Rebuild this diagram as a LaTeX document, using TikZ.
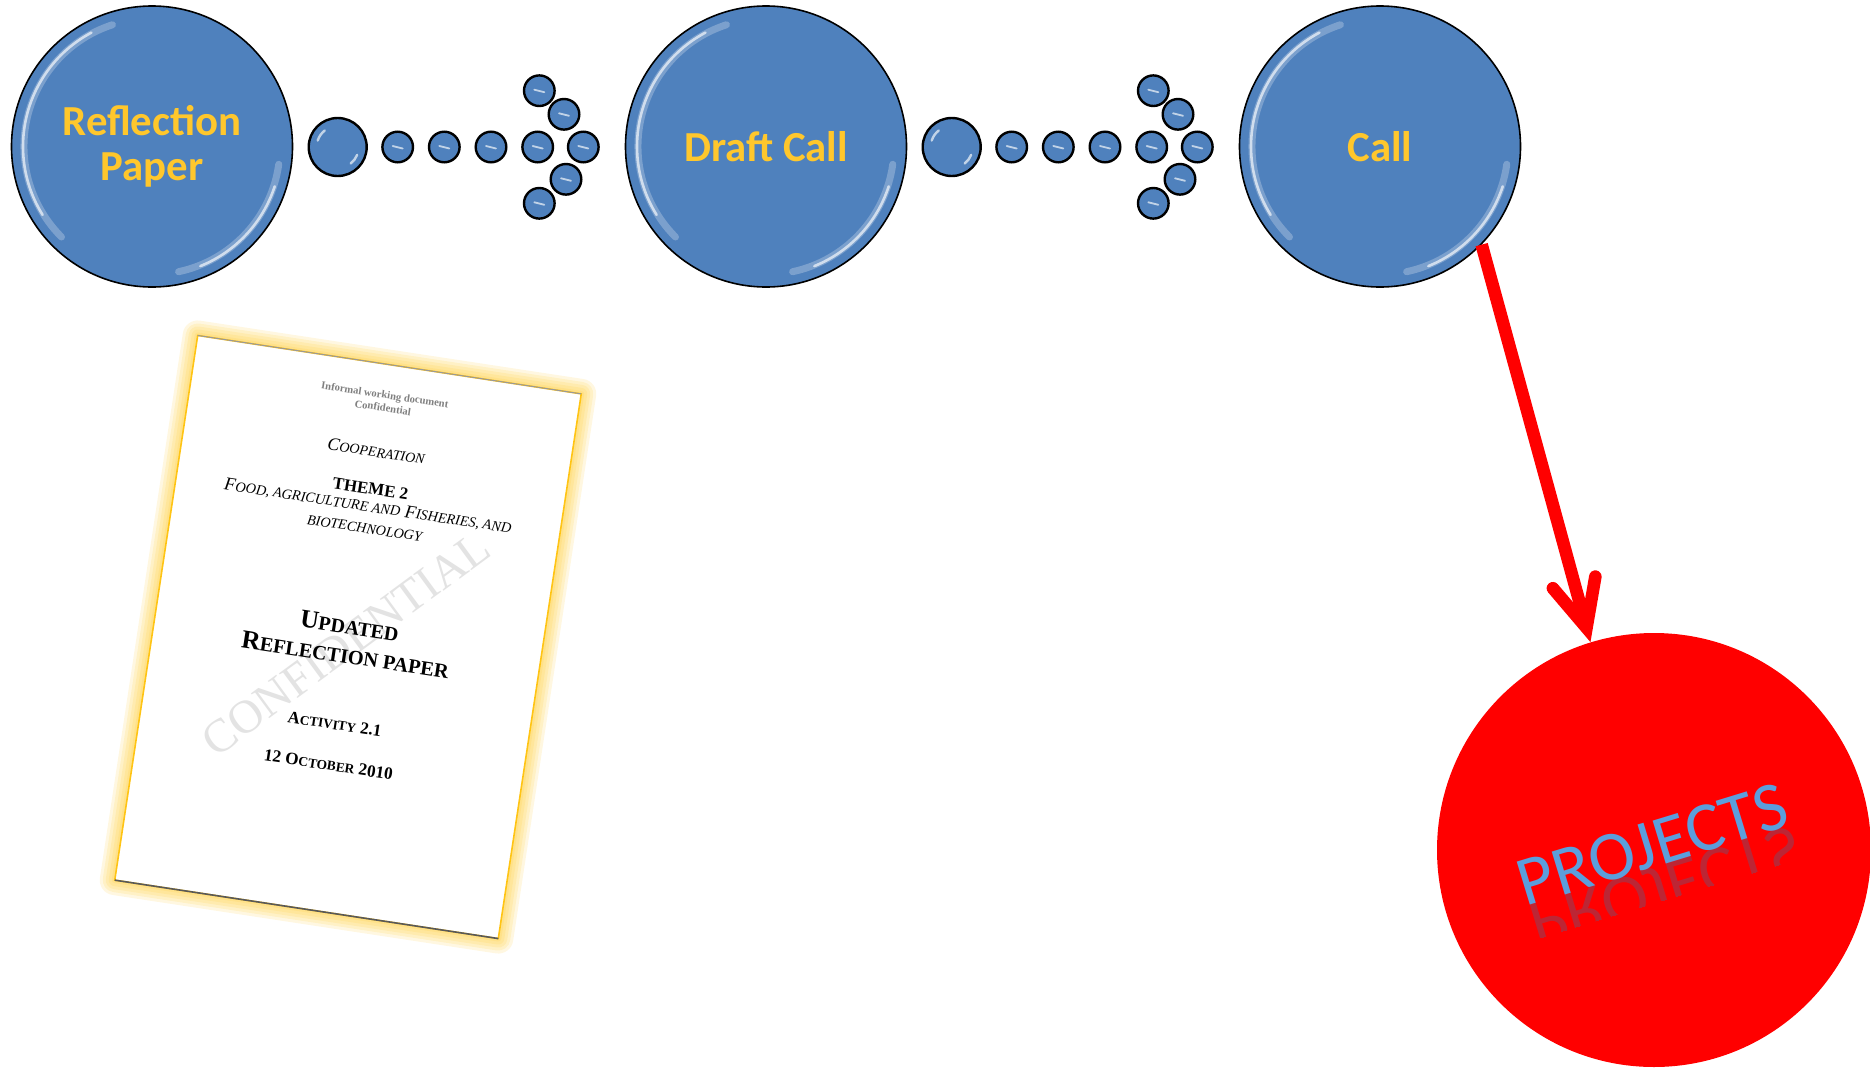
\documentclass[tikz,border=0pt]{standalone}
\usepackage{fontspec}
\setmainfont{Liberation Serif}
\newfontfamily\calfont{Carlito}
\newfontfamily\pagefont{Liberation Serif}
\newfontfamily\pagesc[Scale=0.78]{Liberation Serif}
\usepackage{tikz}
\usetikzlibrary{arrows.meta,positioning,calc}
\definecolor{ballblue}{RGB}{79,129,189}
\definecolor{balltext}{RGB}{255,199,44}
\definecolor{glowgold}{RGB}{255,196,20}
\definecolor{projblue}{RGB}{92,158,220}

\begin{document}
\begin{tikzpicture}[x=0.5pt,y=0.5pt,
	bigball/.style={circle,draw=black,line width=0.8pt,fill=ballblue,minimum size=140.5pt,inner sep=0pt,align=center,text=balltext,font=\calfont\bfseries\fontsize{21.4}{22.8}\selectfont},
	bubble/.style={circle,draw=black,line width=1.2pt,fill=ballblue,minimum size=15.3pt,inner sep=0pt},
	bigbubble/.style={bubble,minimum size=29pt},
	gloss/.style={white,opacity=0.65,line cap=round},
	pagetext/.style={font=\pagefont\fontsize{#1}{#1}\selectfont,inner sep=0pt}]
	\useasboundingbox (0,0) rectangle (1870,-1071);
	% the three stages
	\node[bigball] (refl) at (152,-146.5) {Reflection\\Paper};
	\node[bigball] (draft) at (766,-146.5) {Draft Call};
	\node[bigball] (call) at (1380,-146.5) {Call};
	\foreach \n in {refl,draft,call}{
		\draw[gloss,opacity=0.25,line width=3.5pt] ([shift={(108:128)}]\n.center) arc (108:225:128);
		\draw[gloss,line width=1.3pt] ([shift={(118:129)}]\n.center) arc (118:212:129);
		\draw[gloss,opacity=0.25,line width=3.5pt] ([shift={(-8:128)}]\n.center) arc (-8:-78:128);
		\draw[gloss,line width=1.3pt] ([shift={(-18:129)}]\n.center) arc (-18:-68:129);
	}
	% bubble arrows between the stages
	\foreach \g [count=\k] in {0,614}{
		\node[bigbubble] (lead\k) at (337.7+\g,-147) {};
		\draw[gloss,line width=1.2pt] ([shift={(128:21)}]lead\k.center) arc (128:162:21);
		\draw[gloss,line width=1.2pt] ([shift={(-22:21)}]lead\k.center) arc (-22:-52:21);
		\foreach \x/\y [count=\i] in {397.7/147,444.3/147,491/147,537.7/147,583.3/147,539.3/90.7,564/114.3,566/179.3,539.3/203.3}{
			\node[bubble] (dot\k-\i) at (\x+\g,-\y) {};
			\draw[gloss,line width=0.9pt] ([shift={(-5,1)}]dot\k-\i.center) -- ++(10,-2.5);
		}
	}
	% projects
	\node[circle,fill=red,minimum size=217pt,inner sep=0pt] (proj) at (1654,-850) {};
	\begin{scope}
		\clip[rotate around={17:(1659,-866)}] (1480,-864) rectangle (1840,-900);
		\node[rotate=17,yscale=-1,anchor=base,text=projblue!70!black,opacity=0.35,font=\calfont\fontsize{35}{35}\selectfont] (projmirror) at (1659,-866) {PROJECTS};
	\end{scope}
	\node[rotate=17,anchor=base,text=projblue,font=\calfont\fontsize{35}{35}\selectfont] (projtext) at (1659,-866) {PROJECTS};
	\draw[red,line width=6.3pt,-{Straight Barb[length=23.5pt,width=22pt,line cap=round]}] (call.-44) -- (proj.107.5);
	% the paper
	\begin{scope}[shift={(348,-637)},rotate=-8.66,transform shape]
		\foreach \w in {15pt,12pt,9pt,6pt,3pt}
			\draw[glowgold,opacity=0.13,line width=\w,line join=round] (-194,-275.5) rectangle (194,275.5);
		\fill[white] (-194,-275.5) rectangle (194,275.5);
		\draw[glowgold,line width=0.8pt] (-194,-275.5) rectangle (194,275.5);
		\draw[black!65,line width=0.8pt] (-194,-275.5) -- (194,-275.5);
		\draw[black!40,line width=0.5pt] (-194,275.5) -- (194,275.5);
		\node[pagetext=23.5,rotate=45,text=black!11] (wmark) at (-1,-7) {CONFIDENTIAL};
		\node[pagetext=5.3,text=black!50] (info) at (0,244) {\bfseries Informal working document};
		\node[pagetext=5.3,text=black!50] (conf) at (0,232) {\bfseries Confidential};
		\node[pagetext=9] (coop) at (0,188) {\itshape C{\pagesc OOPERATION}};
		\node[pagetext=8.5] (theme) at (0,150) {\bfseries THEME 2};
		\node[pagetext=9.2] (food) at (0,132) {\itshape F{\pagesc OOD, AGRICULTURE AND} F{\pagesc ISHERIES, AND}};
		\node[pagetext=9.1] (bio) at (0,110) {\itshape{\pagesc BIOTECHNOLOGY}};
		\node[pagetext=12.8] (upd) at (0,11) {\bfseries U{\pagesc PDATED}};
		\node[pagetext=13] (rpap) at (0,-18) {\bfseries R{\pagesc EFLECTION PAPER}};
		\node[pagetext=8.5] (act) at (0,-88) {\bfseries A{\pagesc CTIVITY} 2.1};
		\node[pagetext=8.6] (date) at (0,-129) {\bfseries 12 O{\pagesc CTOBER} 2010};
	\end{scope}
\end{tikzpicture}
\end{document}
